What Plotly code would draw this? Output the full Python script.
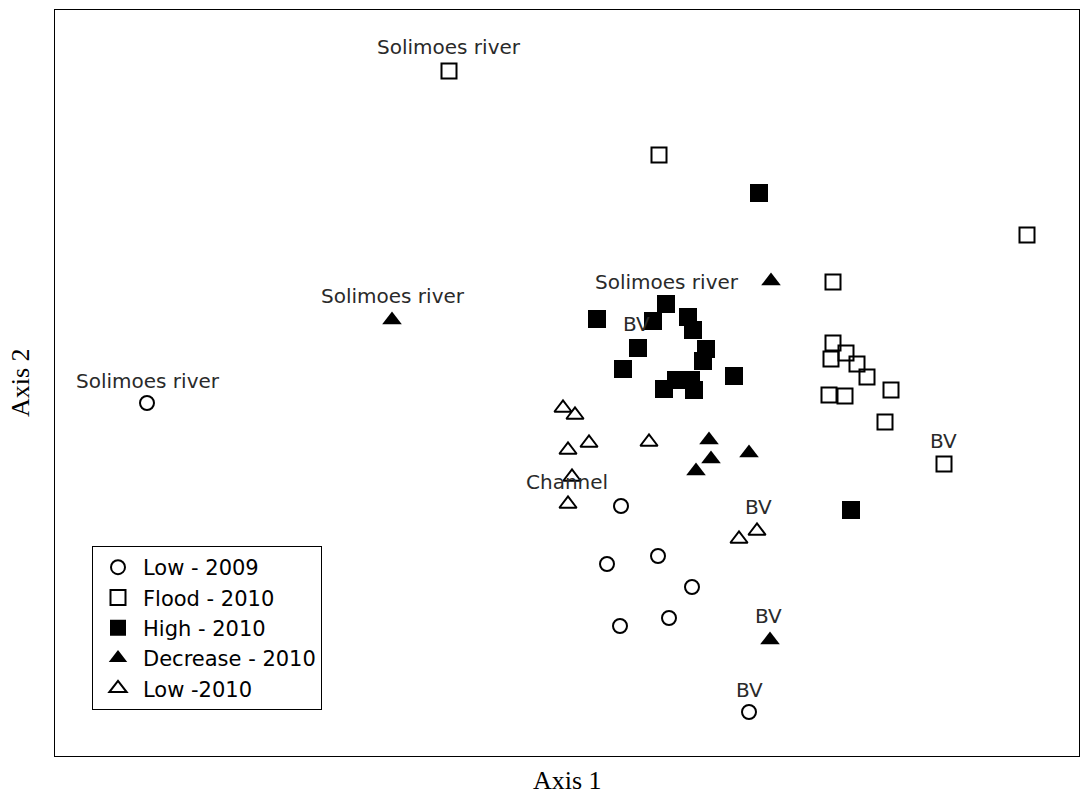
import plotly.graph_objects as go

# Ordination scores (Axis 1, Axis 2)
low09_x = [9.2, 56.6, 55.2, 60.3, 63.7, 56.5, 61.4, 69.4]
low09_y = [35.3, 25.0, 19.2, 20.0, 16.9, 13.0, 13.8, 4.4]

flood10_x = [39.4, 60.4, 97.2, 77.8, 77.8, 77.6, 79.1, 80.2, 81.2, 83.6, 77.4, 79.0, 83.0, 88.9]
flood10_y = [68.5, 60.1, 52.1, 47.4, 41.3, 39.7, 40.3, 39.2, 37.9, 36.6, 36.1, 36.0, 33.4, 29.2]

high10_x = [70.4, 54.2, 61.1, 59.8, 63.3, 63.8, 58.3, 65.1, 64.8, 56.8, 67.9, 62.1, 63.6, 60.9, 63.9, 79.6]
high10_y = [56.3, 43.7, 45.2, 43.5, 43.9, 42.6, 40.8, 40.7, 39.5, 38.7, 38.0, 37.6, 37.6, 36.7, 36.6, 24.6]

decr10_x = [33.7, 71.6, 65.4, 65.6, 64.1, 69.4, 71.5]
decr10_y = [43.6, 47.5, 31.6, 29.7, 28.5, 30.3, 11.6]

low10_x = [50.8, 52.0, 51.3, 53.4, 59.4, 51.7, 51.3, 68.4, 70.2]
low10_y = [34.8, 34.1, 30.6, 31.3, 31.4, 27.9, 25.2, 21.7, 22.5]

series_names = ["Low - 2009", "Flood - 2010", "High - 2010", "Decrease - 2010", "Low -2010"]

# point labels: (text, series, index, xshift, yshift)
point_labels = [
    ("Solimoes river", "Flood - 2010", 0, 0, 24),
    ("Solimoes river", "Decrease - 2010", 0, 1, 24),
    ("Solimoes river", "Low - 2009", 0, 1, 22),
    ("Solimoes river", "High - 2010", 2, 1, 22),
    ("BV", "High - 2010", 6, -2, 24),
    ("Channel", "Low -2010", 6, -1, 22),
    ("BV", "Flood - 2010", 13, -1, 23),
    ("BV", "Low -2010", 8, 1, 24),
    ("BV", "Decrease - 2010", 6, -2, 24),
    ("BV", "Low - 2009", 7, 0, 22),
]

data = {
    "Low - 2009": (low09_x, low09_y, dict(symbol="circle-open", size=14, color="black", line=dict(width=2, color="black"))),
    "Flood - 2010": (flood10_x, flood10_y, dict(symbol="square-open", size=15, color="black", line=dict(width=2, color="black"))),
    "High - 2010": (high10_x, high10_y, dict(symbol="square", size=18, color="black", line=dict(width=0))),
    "Decrease - 2010": (decr10_x, decr10_y, dict(symbol="triangle-up", size=17, color="black", line=dict(width=0))),
    "Low -2010": (low10_x, low10_y, dict(symbol="triangle-up-open", size=15, color="black", line=dict(width=2, color="black"))),
}

fig = go.Figure()
for name in series_names:
    xs, ys, mk = data[name]
    fig.add_trace(go.Scatter(x=xs, y=ys, mode="markers", name=name, marker=mk))

label_font = dict(family="DejaVu Sans, sans-serif", size=20, color="#2a2a2a")
annotations = []
for text, s, i, xs_, ys_ in point_labels:
    xs, ys, _ = data[s]
    annotations.append(dict(x=xs[i], y=ys[i], xref="x", yref="y", text=text, showarrow=False,
                            xshift=xs_, yshift=ys_, font=label_font))

title_font = dict(family="Liberation Serif, Times New Roman, serif", size=26, color="black")
annotations.append(dict(x=0.5, y=-25/746, xref="paper", yref="paper", text="Axis 1", showarrow=False,
                        xanchor="center", yanchor="middle", font=title_font))
annotations.append(dict(x=-35/1024, y=0.5, xref="paper", yref="paper", text="Axis 2", showarrow=False,
                        xanchor="center", yanchor="middle", textangle=-90, font=title_font))

axis_common = dict(showticklabels=False, ticks="", showgrid=False, zeroline=False,
                   showline=True, linecolor="black", linewidth=1, mirror=True)
fig.update_layout(
    width=1082, height=801,
    margin=dict(l=55, r=3, t=10, b=45),
    plot_bgcolor="white", paper_bgcolor="white",
    xaxis=dict(range=[0, 102.4], **axis_common),
    yaxis=dict(range=[0, 74.6], **axis_common),
    showlegend=True,
    legend=dict(x=37/1024, y=(756-546)/746, xanchor="left", yanchor="top",
                bordercolor="black", borderwidth=1, bgcolor="white",
                font=dict(family="DejaVu Sans, sans-serif", size=21, color="black"),
                itemsizing="trace", itemwidth=40),
    annotations=annotations,
)

fig.write_html("out.html")
